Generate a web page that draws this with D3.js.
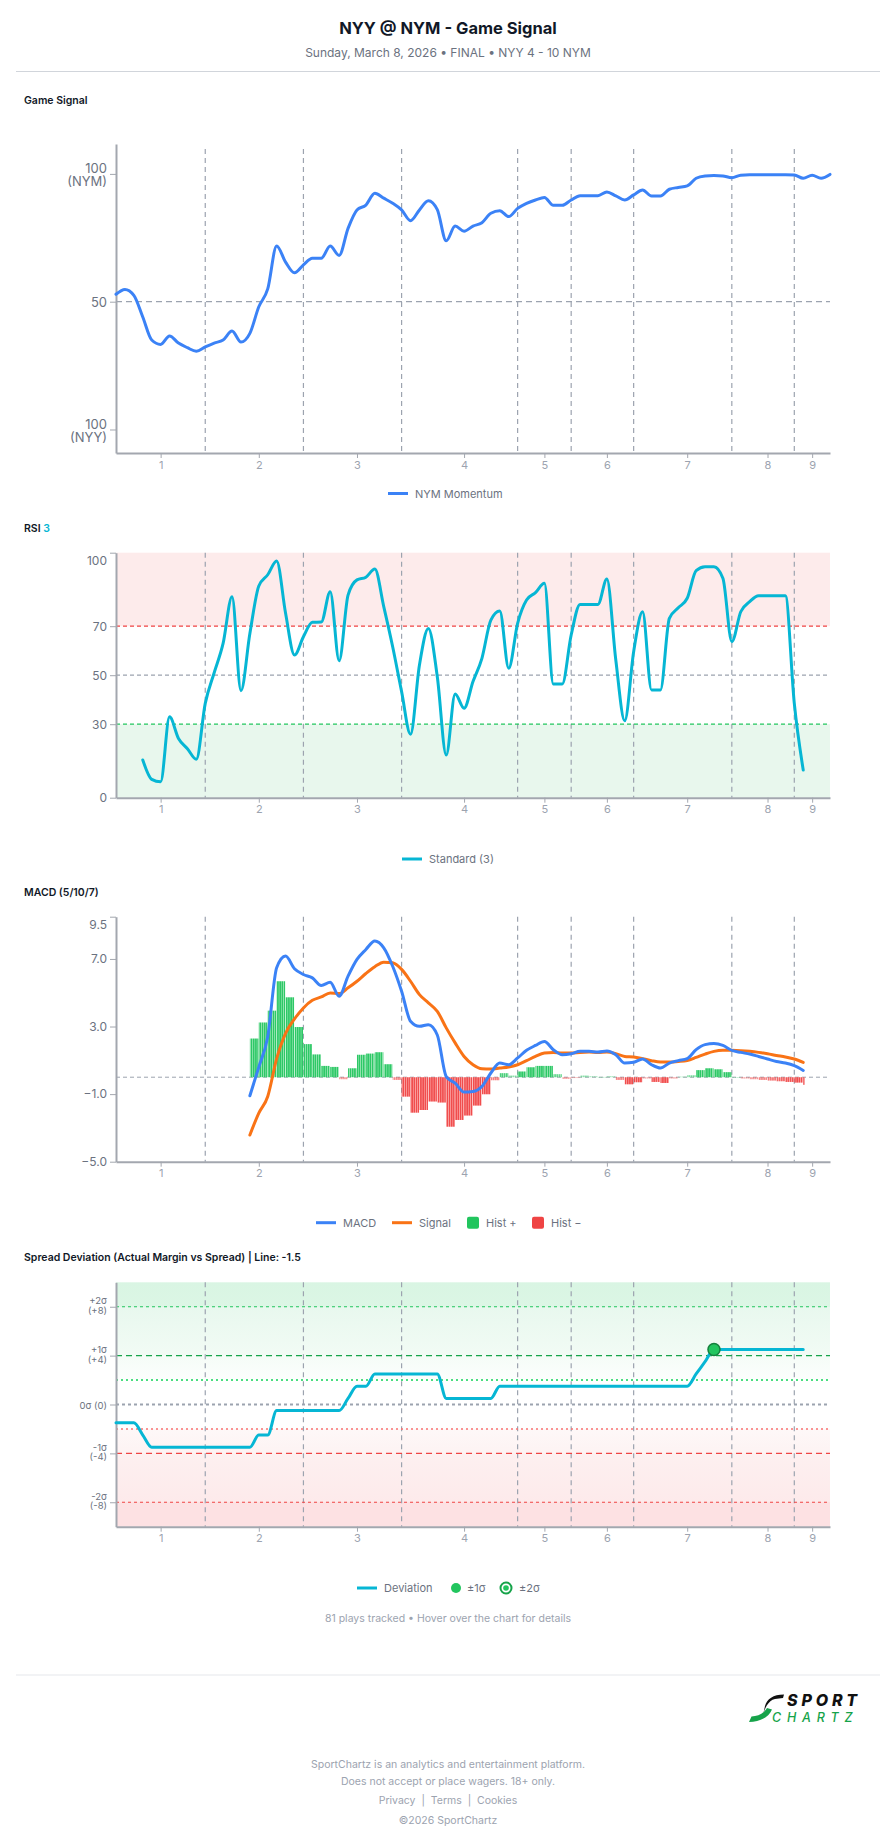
<!DOCTYPE html>
<html>
<head>
<meta charset="utf-8">
<title>NYY @ NYM - Game Signal</title>
<script src="https://cdn.jsdelivr.net/npm/d3@7"></script>
<style>
    body { margin: 0; background: #fff; }
    svg text { font-family: Inter, "Noto Sans", sans-serif; }
</style>
</head>
<body>
<svg id="page" width="896" height="1845"></svg>
<script>
    // ---- data (x = play index, 81 plays) ----
    const inningTicks = [5, 16, 27, 39, 48, 55, 64, 73, 78];
    const inningLabels = ["1", "2", "3", "4", "5", "6", "7", "8", "9"];
    const inningBreaks = [10, 21, 32, 45, 51, 58, 69, 76];

    // NYM momentum, 0 = NYY 100, 100 = NYM 100
    const signal = [52.9, 54.8, 52.5, 44.0, 35.0, 33.3, 36.6, 33.8, 32.0, 30.6,
        32.3, 33.8, 35.0, 38.5, 34.2, 37.6, 48.0, 55.0, 71.8, 65.5,
        61.3, 64.4, 67.0, 67.0, 71.8, 68.1, 78.7, 85.9, 87.8, 92.4,
        90.5, 88.5, 85.9, 81.7, 85.9, 89.5, 86.0, 73.8, 79.6, 77.6,
        79.6, 80.9, 84.6, 85.6, 83.3, 86.5, 88.5, 89.8, 90.8, 87.7,
        87.7, 89.8, 91.5, 91.5, 91.5, 92.9, 91.4, 89.8, 91.8, 93.7,
        91.4, 91.4, 94.0, 94.7, 95.3, 98.3, 99.2, 99.4, 99.2, 98.5,
        99.5, 99.7, 99.7, 99.7, 99.7, 99.7, 99.6, 98.3, 99.5, 98.3,
        99.8];

    const rsiStart = 3;
    const rsi = [15.4, 7.5, 6.5, 33.0, 24.2, 20.0, 15.7, 38.5, 51.0, 63.0,
        82.0, 43.7, 67.0, 86.4, 91.0, 96.6, 75.3, 58.2, 65.7, 71.6,
        71.7, 84.1, 55.9, 82.7, 88.9, 90.0, 93.3, 78.0, 61.6, 43.3,
        25.9, 54.2, 69.1, 49.4, 17.4, 42.3, 36.5, 47.4, 56.9, 72.5,
        76.2, 52.8, 71.2, 80.7, 83.7, 87.5, 46.4, 46.4, 66.4, 78.9,
        78.9, 78.9, 89.3, 56.2, 31.4, 59.6, 75.9, 44.0, 44.0, 73.2,
        77.5, 81.4, 92.7, 94.3, 94.3, 89.6, 63.7, 75.9, 80.0, 82.4,
        82.4, 82.4, 82.4, 38.5, 11.3];

    const macdStart = 15;
    const macd = [-1.10, 0.60, 2.40, 6.48, 7.17, 6.42, 6.08, 5.88, 5.43, 5.62,
        4.79, 5.98, 6.97, 7.56, 8.06, 7.66, 6.57, 5.09, 3.31, 3.01,
        3.11, 2.50, 0.04, -0.35, -0.88, -0.85, -0.55, 0.25, 0.84, 0.74,
        1.14, 1.59, 1.88, 2.12, 1.63, 1.33, 1.39, 1.53, 1.53, 1.49,
        1.55, 1.33, 0.84, 0.88, 1.08, 0.74, 0.54, 0.84, 0.98, 1.10,
        1.63, 1.93, 1.99, 1.88, 1.59, 1.47, 1.37, 1.23, 1.08, 0.93,
        0.84, 0.68, 0.40];
    const macdSignal = [-3.42, -2.13, -1.14, 1.10, 2.60, 3.45, 4.10, 4.55, 4.75, 4.99,
        4.95, 5.29, 5.68, 6.14, 6.54, 6.81, 6.77, 6.38, 5.68, 4.89,
        4.40, 3.90, 2.92, 2.03, 1.23, 0.74, 0.50, 0.48, 0.54, 0.60,
        0.74, 0.98, 1.23, 1.43, 1.47, 1.43, 1.43, 1.47, 1.49, 1.47,
        1.49, 1.39, 1.23, 1.20, 1.10, 0.98, 0.90, 0.90, 0.93, 0.99,
        1.17, 1.37, 1.53, 1.59, 1.59, 1.57, 1.53, 1.47, 1.39, 1.29,
        1.20, 1.08, 0.88];
    const macdHist = [2.29, 3.24, 3.94, 5.68, 4.73, 2.97, 1.96, 1.35, 0.67, 0.61,
        -0.12, 0.53, 1.33, 1.40, 1.48, 0.77, -0.16, -1.15, -2.10, -1.94,
        -1.44, -1.50, -2.93, -2.53, -2.27, -1.68, -1.01, -0.18, 0.24, 0.10,
        0.34, 0.59, 0.67, 0.67, 0.18, -0.10, -0.05, 0.10, 0.06, 0.02,
        0.06, -0.16, -0.42, -0.30, -0.08, -0.28, -0.34, -0.08, 0.04, 0.12,
        0.42, 0.53, 0.47, 0.30, 0.01, -0.08, -0.12, -0.16, -0.20, -0.24,
        -0.28, -0.32, -0.45];

    // spread deviation (runs), line -1.5, sigma = 4
    const deviation = [-1.5, -1.5, -1.5, -2.5, -3.5, -3.5, -3.5, -3.5, -3.5, -3.5,
        -3.5, -3.5, -3.5, -3.5, -3.5, -3.5, -2.5, -2.5, -0.5, -0.5,
        -0.5, -0.5, -0.5, -0.5, -0.5, -0.5, 0.5, 1.5, 1.5, 2.5,
        2.5, 2.5, 2.5, 2.5, 2.5, 2.5, 2.5, 0.5, 0.5, 0.5,
        0.5, 0.5, 0.5, 1.5, 1.5, 1.5, 1.5, 1.5, 1.5, 1.5,
        1.5, 1.5, 1.5, 1.5, 1.5, 1.5, 1.5, 1.5, 1.5, 1.5,
        1.5, 1.5, 1.5, 1.5, 1.5, 2.5, 3.5, 4.5, 4.5, 4.5,
        4.5, 4.5, 4.5, 4.5, 4.5, 4.5, 4.5, 4.5];
    const sigmaMarks = [{ play: 67, value: 4.5 }];
    const devTicks = [-8, -4, 0, 4, 8];
    const devTickLabels = [["-2σ", "(-8)"], ["-1σ", "(-4)"], ["0σ (0)"], ["+1σ", "(+4)"], ["+2σ", "(+8)"]];

    // ---- layout ----
    const X0 = 116, X1 = 830;
    const axisColor = "#a3a7af", gridColor = "#9ca3af", textColor = "#6b7280";
    const svg = d3.select("#page");
    const defs = svg.append("defs");

    const x = d3.scaleLinear().domain([0, 80]).range([X0, X1]);

    function stripes(id, base, light) {
        const p = defs.append("pattern").attr("id", id)
            .attr("patternUnits", "userSpaceOnUse").attr("width", 2.2).attr("height", 4);
        p.append("rect").attr("width", 2.2).attr("height", 4).attr("fill", base);
        p.append("rect").attr("x", 1.5).attr("width", 0.7).attr("height", 4).attr("fill", light);
    }
    stripes("histPos", "#22c55e", "#9ae6b4");
    stripes("histNeg", "#ef4444", "#fca5a5");

    function sectionTitle(y, parts) {
        const t = svg.append("text").attr("x", 24).attr("y", y)
            .attr("font-size", 10.5).attr("font-weight", 600).attr("fill", "#111827");
        parts.forEach(p => t.append("tspan").attr("fill", p.color || "#111827").text(p.text));
    }

    function xAxis(g, bottom) {
        const ax = g.append("g").attr("transform", `translate(0,${bottom})`)
            .call(d3.axisBottom(x).tickValues(inningTicks)
                .tickFormat((d, i) => inningLabels[i]).tickSize(5).tickSizeOuter(0));
        ax.select(".domain").attr("stroke", axisColor).attr("stroke-width", 2);
        ax.selectAll(".tick line").attr("stroke", axisColor);
        ax.selectAll(".tick text").attr("fill", "#9ca3af").attr("font-size", 11)
            .attr("font-family", "Inter, sans-serif");
    }

    function yAxis(g, y, ticks, fmt) {
        const ax = g.append("g").attr("transform", `translate(${X0},0)`)
            .call(d3.axisLeft(y).tickValues(ticks).tickFormat(fmt).tickSize(6).tickSizeOuter(0));
        ax.select(".domain").attr("stroke", axisColor).attr("stroke-width", 2);
        ax.selectAll(".tick line").attr("stroke", axisColor);
        ax.selectAll(".tick text").attr("fill", textColor).attr("font-size", 12)
            .attr("font-family", "Inter, sans-serif");
        return ax;
    }

    function inningLines(g, top, bottom) {
        g.append("g").selectAll("line").data(inningBreaks).join("line")
            .attr("x1", d => x(d)).attr("x2", d => x(d))
            .attr("y1", top).attr("y2", bottom)
            .attr("stroke", gridColor).attr("stroke-width", 1.2).attr("stroke-dasharray", "5,4");
    }

    function hLine(g, y, v, color, dash, width) {
        g.append("line").attr("x1", X0).attr("x2", X1).attr("y1", y(v)).attr("y2", y(v))
            .attr("stroke", color).attr("stroke-dasharray", dash).attr("stroke-width", width || 1.2);
    }

    function legend(y, items) {
        const g = svg.append("g").attr("font-size", 11).attr("fill", textColor);
        items.forEach(it => {
            if (it.type === "line") {
                g.append("line").attr("x1", it.x).attr("x2", it.x + 20).attr("y1", y).attr("y2", y)
                    .attr("stroke", it.color).attr("stroke-width", 3);
                g.append("text").attr("x", it.x + 27).attr("y", y + 4).text(it.label);
            } else if (it.type === "box") {
                g.append("rect").attr("x", it.x).attr("y", y - 6).attr("width", 12).attr("height", 12)
                    .attr("rx", 2).attr("fill", it.color);
                g.append("text").attr("x", it.x + 19).attr("y", y + 4).text(it.label);
            } else if (it.type === "dot") {
                g.append("circle").attr("cx", it.x + 5).attr("cy", y).attr("r", 5).attr("fill", it.color);
                g.append("text").attr("x", it.x + 16).attr("y", y + 4).text(it.label);
            } else if (it.type === "ring") {
                g.append("circle").attr("cx", it.x + 6).attr("cy", y).attr("r", 5.5)
                    .attr("fill", "#fff").attr("stroke", "#16a34a").attr("stroke-width", 2);
                g.append("circle").attr("cx", it.x + 6).attr("cy", y).attr("r", 2.8).attr("fill", "#22c55e");
                g.append("text").attr("x", it.x + 19).attr("y", y + 4).text(it.label);
            }
        });
    }

    // ---- header ----
    svg.append("text").attr("x", 448).attr("y", 33.5).attr("text-anchor", "middle")
        .attr("font-size", 16.5).attr("font-weight", 700).attr("fill", "#111827")
        .text("NYY @ NYM - Game Signal");
    svg.append("text").attr("x", 448).attr("y", 57).attr("text-anchor", "middle")
        .attr("font-size", 12).attr("fill", textColor)
        .text("Sunday, March 8, 2026 • FINAL • NYY 4 - 10 NYM");
    svg.append("line").attr("x1", 16).attr("x2", 880).attr("y1", 71.5).attr("y2", 71.5)
        .attr("stroke", "#d1d5db");

    // ---- Game Signal ----
    sectionTitle(104, [{ text: "Game Signal" }]);
    {
        const top = 144, bottom = 453;
        const y = d3.scaleLinear().domain([-9.2, 111.7]).range([bottom, top]);
        const g = svg.append("g");
        inningLines(g, top + 5, bottom);
        hLine(g, y, 50, gridColor, "6,4", 1.2);
        const ax = yAxis(g, y, [0, 50, 100], () => "");
        const labels = { 0: ["100", "(NYY)"], 50: ["50"], 100: ["100", "(NYM)"] };
        ax.selectAll(".tick").each(function (d) {
            const lines = labels[d];
            const t = d3.select(this).select("text").attr("x", -9).attr("dy", null)
                .attr("font-size", 13);
            lines.forEach((s, i) => t.append("tspan").attr("x", -9)
                .attr("y", lines.length === 1 ? 4.5 : (i === 0 ? -1 : 12)).text(s));
        });
        xAxis(g, bottom);
        g.append("path").datum(signal)
            .attr("fill", "none").attr("stroke", "#3b82f6").attr("stroke-width", 3)
            .attr("stroke-linejoin", "round").attr("stroke-linecap", "round")
            .attr("d", d3.line().x((d, i) => x(i)).y(d => y(d)).curve(d3.curveMonotoneX));
        legend(493.5, [{ type: "line", x: 388, color: "#3b82f6", label: "NYM Momentum" }]);
    }

    // ---- RSI ----
    sectionTitle(531.5, [{ text: "RSI " }, { text: "3", color: "#06b6d4" }]);
    {
        const top = 552.7, bottom = 797.7;
        const y = d3.scaleLinear().domain([0, 100]).range([bottom, top]);
        const g = svg.append("g");
        g.append("rect").attr("x", X0).attr("width", X1 - X0).attr("y", y(100)).attr("height", y(70) - y(100))
            .attr("fill", "#fdebeb");
        g.append("rect").attr("x", X0).attr("width", X1 - X0).attr("y", y(30)).attr("height", y(0) - y(30))
            .attr("fill", "#e8f7ed");
        inningLines(g, top, bottom);
        hLine(g, y, 70, "#ef4444", "4,3", 1.3);
        hLine(g, y, 50, gridColor, "4,3", 1.3);
        hLine(g, y, 30, "#22c55e", "4,3", 1.3);
        const ax = yAxis(g, y, [0, 30, 50, 70, 100], d3.format("d"));
        ax.selectAll(".tick text").filter(d => d === 100).attr("dy", "1.0em");
        xAxis(g, bottom);
        g.append("path").datum(rsi)
            .attr("fill", "none").attr("stroke", "#06b6d4").attr("stroke-width", 3)
            .attr("stroke-linejoin", "round").attr("stroke-linecap", "round")
            .attr("d", d3.line().x((d, i) => x(rsiStart + i)).y(d => y(d)).curve(d3.curveMonotoneX));
        legend(859, [{ type: "line", x: 402, color: "#06b6d4", label: "Standard (3)" }]);
    }

    // ---- MACD ----
    sectionTitle(896, [{ text: "MACD (5/10/7)" }]);
    {
        const top = 916.7, bottom = 1161.7;
        const y = d3.scaleLinear().domain([-5, 9.5]).range([bottom, top]);
        const g = svg.append("g");
        inningLines(g, top, bottom);
        hLine(g, y, 0, gridColor, "4,3", 1);
        const ax = yAxis(g, y, [-5, -1, 3, 7, 9.5], d3.format(".1f"));
        ax.selectAll(".tick text").filter(d => d === 9.5).attr("dy", "1.0em");
        xAxis(g, bottom);
        const clipId = "histClip";
        defs.append("clipPath").attr("id", clipId).append("rect")
            .attr("x", X0).attr("y", top).attr("width", x(macdStart + macdHist.length - 1) + 1.5 - X0)
            .attr("height", bottom - top);
        const step = x(1) - x(0);
        g.append("g").attr("clip-path", `url(#${clipId})`)
            .selectAll("rect").data(macdHist).join("rect")
            .attr("x", (d, i) => x(macdStart + i))
            .attr("width", step - 0.4)
            .attr("y", d => y(Math.max(0, d)))
            .attr("height", d => Math.max(0.8, Math.abs(y(d) - y(0))))
            .attr("fill", d => d >= 0 ? "url(#histPos)" : "url(#histNeg)")
            .attr("opacity", d => 0.3 + 0.65 * Math.min(1, Math.abs(d) / 0.3));
        const line = d3.line().x((d, i) => x(macdStart + i)).y(d => y(d)).curve(d3.curveMonotoneX);
        g.append("path").datum(macdSignal).attr("fill", "none").attr("stroke", "#f97316")
            .attr("stroke-width", 3).attr("stroke-linecap", "round").attr("d", line);
        g.append("path").datum(macd).attr("fill", "none").attr("stroke", "#3b82f6")
            .attr("stroke-width", 3).attr("stroke-linecap", "round").attr("d", line);
        legend(1222.7, [
            { type: "line", x: 316, color: "#3b82f6", label: "MACD" },
            { type: "line", x: 392, color: "#f97316", label: "Signal" },
            { type: "box", x: 467, color: "#22c55e", label: "Hist +" },
            { type: "box", x: 532, color: "#ef4444", label: "Hist −" }
        ]);
    }

    // ---- Spread Deviation ----
    sectionTitle(1260.5, [{ text: "Spread Deviation (Actual Margin vs Spread) | Line: -1.5" }]);
    {
        const top = 1282.3, bottom = 1526.7;
        const y = d3.scaleLinear().domain([-10, 10]).range([bottom, top]);
        const g = svg.append("g");
        const grad = defs.append("linearGradient").attr("id", "devBg")
            .attr("x1", 0).attr("x2", 0).attr("y1", 0).attr("y2", 1);
        const off = v => (y(v) - top) / (bottom - top);
        [[10, "#d9f5e3"], [8, "#dcf6e5"], [8, "#e8f8ee"], [4, "#f2fbf5"], [4, "#f5fcf7"], [2, "#fcfefd"],
        [2, "#ffffff"], [-2, "#ffffff"], [-2, "#fef8f8"], [-4, "#fdf3f3"], [-4, "#fdf0f0"],
        [-8, "#fdeaeb"], [-8, "#fde1e3"], [-10, "#fde1e3"]]
            .forEach(([v, c]) => grad.append("stop").attr("offset", off(v)).attr("stop-color", c));
        g.append("rect").attr("x", X0).attr("y", top).attr("width", X1 - X0).attr("height", bottom - top)
            .attr("fill", "url(#devBg)");
        inningLines(g, top, bottom);
        hLine(g, y, 8, "#22c55e", "3,3", 1.2);
        hLine(g, y, 4, "#16a34a", "6,4", 1.2);
        hLine(g, y, 2, "#4ade80", "2,3", 2);
        hLine(g, y, 0, "#9ca3af", "3,3", 2);
        hLine(g, y, -2, "#f87171", "2,3", 1.6);
        hLine(g, y, -4, "#ef4444", "6,4", 1.2);
        hLine(g, y, -8, "#ef4444", "3,3", 1.2);
        const ax = yAxis(g, y, devTicks, () => "");
        ax.selectAll(".tick").each(function (d, i) {
            const lines = devTickLabels[i];
            const t = d3.select(this).select("text").attr("x", -9).attr("dy", null)
                .attr("font-size", 9.5);
            lines.forEach((s, k) => t.append("tspan").attr("x", -9)
                .attr("y", lines.length === 1 ? 3.5 : (k === 0 ? -3 : 6.5)).text(s));
        });
        xAxis(g, bottom);
        g.append("path").datum(deviation)
            .attr("fill", "none").attr("stroke", "#06b6d4").attr("stroke-width", 3)
            .attr("stroke-linejoin", "round").attr("stroke-linecap", "round")
            .attr("d", d3.line().x((d, i) => x(i)).y(d => y(d)).curve(d3.curveMonotoneX));
        g.selectAll("circle.mark").data(sigmaMarks).join("circle").attr("class", "mark")
            .attr("cx", d => x(d.play)).attr("cy", d => y(d.value)).attr("r", 6)
            .attr("fill", "#22c55e").attr("stroke", "#15803d").attr("stroke-width", 1.5);
        legend(1588, [
            { type: "line", x: 357, color: "#06b6d4", label: "Deviation" },
            { type: "dot", x: 451, color: "#22c55e", label: "±1σ" },
            { type: "ring", x: 500, label: "±2σ" }
        ]);
        svg.append("text").attr("x", 448).attr("y", 1622).attr("text-anchor", "middle")
            .attr("font-size", 10.5).attr("fill", "#9ca3af")
            .text("81 plays tracked • Hover over the chart for details");
    }

    // ---- footer ----
    svg.append("line").attr("x1", 16).attr("x2", 880).attr("y1", 1675).attr("y2", 1675)
        .attr("stroke", "#e5e7eb");
    const logo = svg.append("g");
    logo.append("path").attr("d", "M784,1694.5 C773,1694.5 767,1699 765,1706 L763,1715 C764.5,1709 768,1700.5 775,1699 L783,1698 Z")
        .attr("fill", "#111");
    logo.append("path").attr("d", "M749,1722 L751.5,1716.5 C758,1716.5 764,1713.5 767,1708 L772,1709.5 C769,1717 760,1722 749,1722 Z")
        .attr("fill", "#16a34a");
    logo.append("text").attr("x", 787).attr("y", 1705.5).attr("font-size", 16).attr("font-weight", 800)
        .attr("font-style", "italic").attr("fill", "#111").attr("letter-spacing", 1.8)
        .attr("textLength", 72).text("SPORT");
    logo.append("text").attr("x", 772).attr("y", 1722).attr("font-size", 12.5).attr("font-weight", 500)
        .attr("font-style", "italic").attr("fill", "#16a34a").attr("letter-spacing", 2.5)
        .attr("textLength", 83).text("CHARTZ");

    const foot = [
        ["SportChartz is an analytics and entertainment platform.", 1767.5],
        ["Does not accept or place wagers. 18+ only.", 1784.5],
        ["Privacy  |  Terms  |  Cookies", 1803.5],
        ["©2026 SportChartz", 1823.5]
    ];
    svg.append("g").selectAll("text").data(foot).join("text")
        .attr("x", 448).attr("y", d => d[1]).attr("text-anchor", "middle")
        .attr("font-size", 10.5).attr("fill", "#9ca3af").attr("xml:space", "preserve")
        .text(d => d[0]);
</script>
</body>
</html>
